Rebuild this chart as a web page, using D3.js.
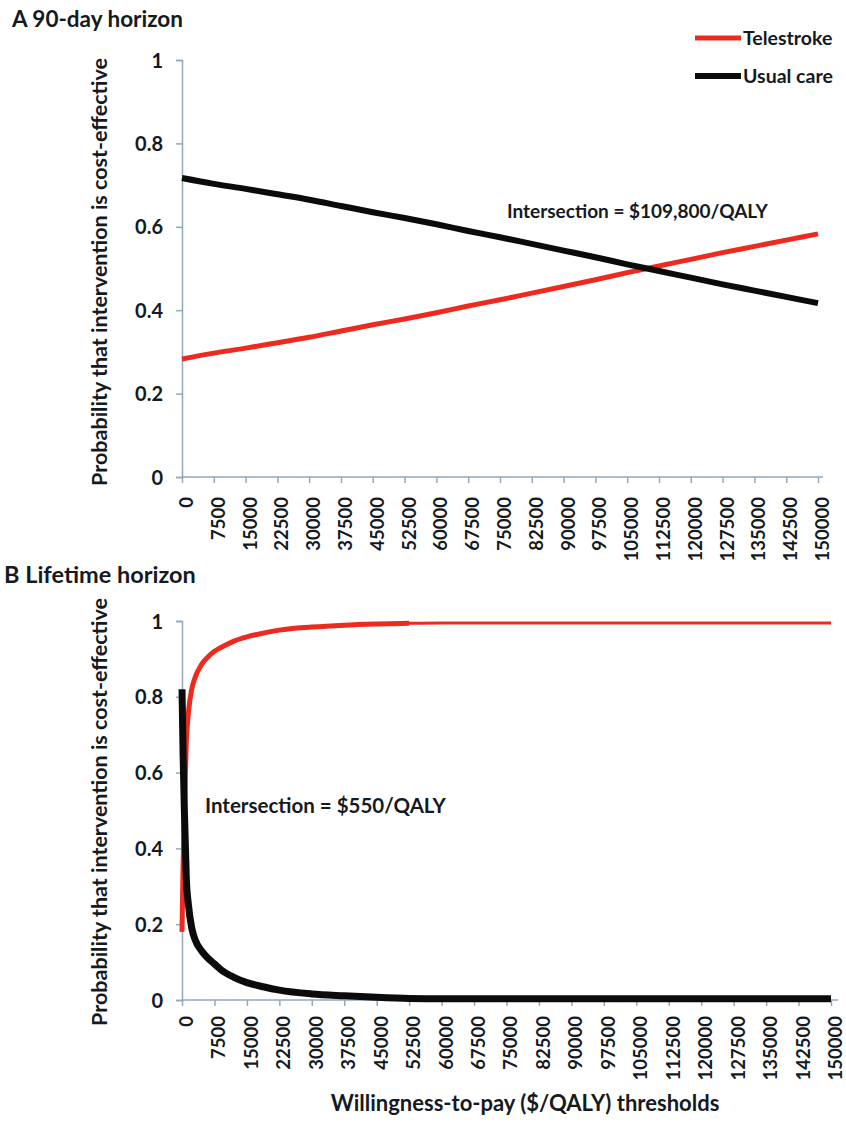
<!DOCTYPE html>
<html>
<head>
<meta charset="utf-8">
<script src="https://cdn.jsdelivr.net/npm/d3@7"></script>
<style>
  body { margin: 0; background: #fff; }
  svg text { font-family: Lato, "Open Sans", sans-serif; font-weight: bold; fill: #151a1f; }
</style>
</head>
<body>
<div id="chart"></div>
<script>
// willingness-to-pay thresholds shown on the axis
var tickValues = d3.range(0, 150001, 7500);

// panel A: 90-day horizon
var wtpA = [0, 7500, 15000, 22500, 30000, 37500, 45000, 52500, 60000, 67500, 75000,
    82500, 90000, 97500, 105000, 112500, 120000, 127500, 135000, 142500, 150000];
var teleA = [0.283, 0.297, 0.309, 0.322, 0.335, 0.350, 0.365, 0.379, 0.394, 0.410, 0.425,
    0.441, 0.457, 0.473, 0.490, 0.506, 0.522, 0.538, 0.553, 0.568, 0.583];
var usualA = [0.717, 0.703, 0.691, 0.678, 0.665, 0.650, 0.635, 0.621, 0.606, 0.590, 0.575,
    0.559, 0.543, 0.527, 0.510, 0.494, 0.478, 0.462, 0.447, 0.432, 0.417];

// panel B: lifetime horizon
var wtpB = [0, 250, 550, 1000, 1500, 2250, 3000, 4500, 6000, 7500, 9000, 12000, 15000,
    18750, 22500, 30000, 37500, 45000, 52500, 60000, 75000, 90000, 105000, 120000, 135000, 150000];
var teleB = [0.18, 0.35, 0.50, 0.68, 0.76, 0.82, 0.85, 0.885, 0.905, 0.92, 0.93, 0.947, 0.958,
    0.968, 0.976, 0.984, 0.989, 0.992, 0.994, 0.995, 0.995, 0.995, 0.995, 0.995, 0.995, 0.995];
var usualB = [0.82, 0.65, 0.50, 0.32, 0.25, 0.19, 0.16, 0.13, 0.11, 0.095, 0.08, 0.06, 0.046,
    0.035, 0.026, 0.016, 0.011, 0.007, 0.004, 0.003, 0.003, 0.003, 0.003, 0.003, 0.003, 0.003];

var yTicks = [0, 0.2, 0.4, 0.6, 0.8, 1];
var axisColor = "#8ea9c1";

var svg = d3.select("#chart")
    .append("svg")
    .attr("width", 846)
    .attr("height", 1125);

function drawPanel(opt) {
    var x = d3.scaleLinear().domain([0, 150000]).range([opt.x0, opt.x1]);
    var y = d3.scaleLinear().domain([0, 1]).range([opt.y0, opt.y1]);
    var g = svg.append("g");

    // y axis
    var yAxis = g.append("g")
        .attr("transform", "translate(" + opt.x0 + ",0)")
        .call(d3.axisLeft(y).tickValues(yTicks).tickSize(6).tickPadding(13)
            .tickFormat(function (d) { return d === 0 || d === 1 ? d : d3.format(".1f")(d); }));
    yAxis.select(".domain").attr("stroke", axisColor).attr("stroke-width", 1.5);
    yAxis.selectAll(".tick line").attr("stroke", axisColor).attr("stroke-width", 1.5);
    yAxis.selectAll("text").style("font-size", "20px").attr("dy", "0.35em");

    // x axis
    var xAxis = g.append("g")
        .attr("transform", "translate(0," + opt.y0 + ")")
        .call(d3.axisBottom(x).tickValues(tickValues).tickSize(6).tickSizeOuter(0)
            .tickFormat(d3.format("d")));
    xAxis.select(".domain")
        .attr("d", "M" + opt.x0 + ",0H" + (opt.x1 + opt.axisExtra))
        .attr("stroke", axisColor).attr("stroke-width", 1.5);
    xAxis.selectAll(".tick line").attr("stroke", axisColor).attr("stroke-width", 1.5);
    xAxis.selectAll("text")
        .style("font-size", "18.5px")
        .attr("text-anchor", "end")
        .attr("transform", "rotate(-90)")
        .attr("x", -opt.labelGap)
        .attr("y", 4)
        .attr("dy", "0.35em");

    var line = d3.line()
        .x(function (d) { return x(d[0]); })
        .y(function (d) { return y(d[1]); })
        .curve(d3.curveMonotoneX);

    var red = d3.zip(opt.wtp, opt.tele);
    g.append("path")
        .datum(red)
        .attr("fill", "none")
        .attr("stroke", "#ee2a1e")
        .attr("stroke-width", opt.redWidth)
        .attr("stroke-linejoin", "round")
        .attr("d", line);
    if (opt.redThickTo) {
        // thicker stroke on the early part of the curve
        g.append("path")
            .datum(red.filter(function (d) { return d[0] <= opt.redThickTo; }))
            .attr("fill", "none")
            .attr("stroke", "#ee2a1e")
            .attr("stroke-width", 5)
            .attr("stroke-linejoin", "round")
            .attr("d", line);
    }

    g.append("path")
        .datum(d3.zip(opt.wtp, opt.usual))
        .attr("fill", "none")
        .attr("stroke", "#0b0b0b")
        .attr("stroke-width", opt.blackWidth)
        .attr("stroke-linejoin", "round")
        .attr("d", line);

    // panel title
    svg.append("text")
        .attr("x", opt.titleX)
        .attr("y", opt.titleY)
        .style("font-size", opt.titleSize)
        .text(opt.title);

    // y axis title
    svg.append("text")
        .attr("transform", "translate(107," + opt.yTitleMid + ") rotate(-90)")
        .attr("text-anchor", "middle")
        .style("font-size", "21.5px")
        .text("Probability that intervention is cost-effective");

    // annotation
    svg.append("text")
        .attr("x", opt.noteX)
        .attr("y", opt.noteY)
        .style("font-size", opt.noteSize)
        .text(opt.note);
}

drawPanel({
    x0: 182, x1: 818, y0: 477, y1: 60, axisExtra: 5, labelGap: 20,
    wtp: wtpA, tele: teleA, usual: usualA,
    redWidth: 5, blackWidth: 6,
    title: "A  90-day horizon", titleX: 12, titleY: 27, titleSize: "22.5px",
    yTitleMid: 272,
    note: "Intersection = $109,800/QALY", noteX: 507, noteY: 218, noteSize: "19px"
});

drawPanel({
    x0: 182, x1: 831, y0: 1000, y1: 621, axisExtra: 7, labelGap: 16,
    wtp: wtpB, tele: teleB, usual: usualB,
    redWidth: 3, redThickTo: 52500, blackWidth: 7,
    title: "B  Lifetime horizon", titleX: 4, titleY: 583, titleSize: "23.5px",
    yTitleMid: 812,
    note: "Intersection = $550/QALY", noteX: 205, noteY: 813, noteSize: "20.5px"
});

// x axis title
svg.append("text")
    .attr("x", 525)
    .attr("y", 1111)
    .attr("text-anchor", "middle")
    .style("font-size", "22px")
    .text("Willingness-to-pay ($/QALY) thresholds");

// legend
var legendItems = [["Telestroke", "#ee2a1e", 5], ["Usual care", "#0b0b0b", 6]];
var legend = svg.append("g").attr("transform", "translate(695,38)");
legendItems.forEach(function (d, i) {
    legend.append("line")
        .attr("x1", 0).attr("x2", 46)
        .attr("y1", i * 38).attr("y2", i * 38)
        .attr("stroke", d[1])
        .attr("stroke-width", d[2]);
    legend.append("text")
        .attr("x", 48)
        .attr("y", i * 38)
        .attr("dy", "0.35em")
        .style("font-size", "19.5px")
        .text(d[0]);
});
</script>
</body>
</html>
